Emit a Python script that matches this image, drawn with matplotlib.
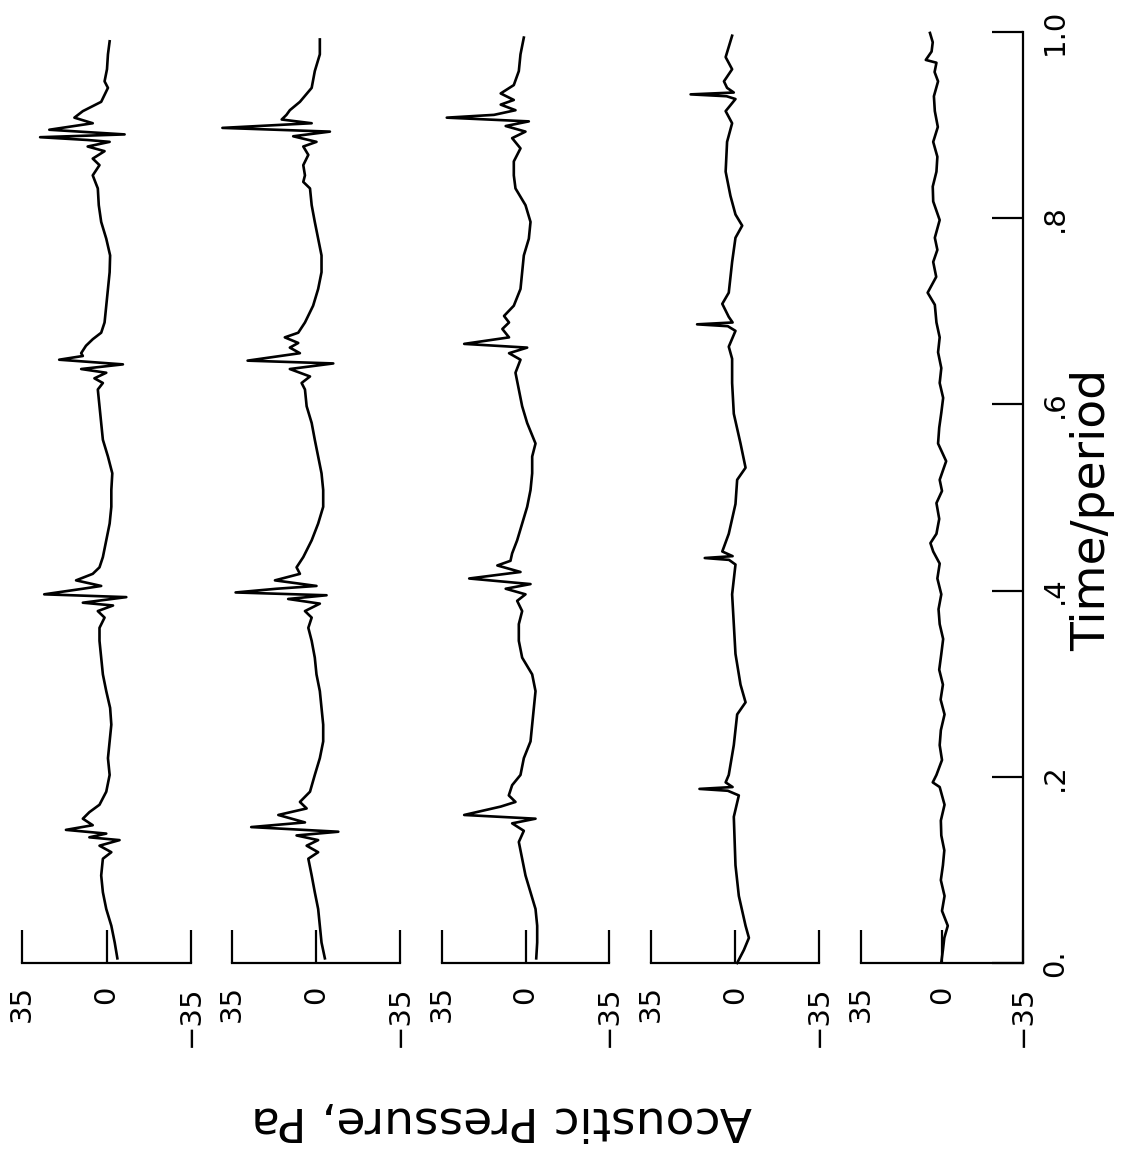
import matplotlib.pyplot as plt

# time/period and acoustic pressure (Pa), top trace first
t1 = [0.005, 0.022, 0.040, 0.058, 0.076, 0.094, 0.112, 0.119, 0.126, 0.132, 0.135, 0.139,
      0.143, 0.148, 0.155, 0.162, 0.170, 0.184, 0.202, 0.220, 0.238, 0.256, 0.274, 0.292,
      0.310, 0.328, 0.346, 0.360, 0.371, 0.378, 0.384, 0.387, 0.393, 0.396, 0.402, 0.405,
      0.411, 0.418, 0.425, 0.436, 0.454, 0.472, 0.490, 0.508, 0.526, 0.544, 0.562, 0.580,
      0.598, 0.616, 0.623, 0.628, 0.634, 0.638, 0.643, 0.648, 0.652, 0.655, 0.663, 0.670,
      0.677, 0.688, 0.706, 0.724, 0.742, 0.760, 0.778, 0.796, 0.814, 0.832, 0.846, 0.857,
      0.864, 0.872, 0.877, 0.882, 0.884, 0.887, 0.890, 0.895, 0.902, 0.908, 0.915, 0.925,
      0.940, 0.947, 0.960, 0.976, 0.990]
p1 = [-4.5, -3.4, -2.0, 0.1, 1.5, 2.2, 1.5, -2.0, 2.9, -5.4, 7.1, 0.1,
      16.8, 5.7, 9.8, 7.1, 2.9, 0.1, -1.3, -0.6, -1.3, -2.0, -1.5, 0.1,
      1.5, 2.2, 2.9, 2.9, 0.8, 3.6, -2.7, 9.8, -8.2, 25.8, 9.8, 2.2,
      12.6, 5.7, 2.9, 1.5, 0.1, -1.3, -2.0, -2.0, -2.4, -0.6, 1.5, 2.2,
      2.9, 3.6, 1.5, 5.0, 0.1, 10.5, -6.8, 19.6, 9.8, 10.5, 8.5, 5.7,
      2.2, 0.8, 0.1, -0.6, -1.3, -1.5, 0.1, 2.2, 3.2, 3.6, 5.7, 2.9,
      5.7, 0.8, 7.8, -1.3, 7.8, 27.5, -7.5, 23.7, 5.7, 13.3, 9.8, 2.2,
      -0.6, 0.8, -0.2, -0.6, -1.3]

t2 = [0.005, 0.022, 0.040, 0.058, 0.076, 0.094, 0.112, 0.119, 0.126, 0.132, 0.137, 0.141,
      0.146, 0.151, 0.159, 0.166, 0.173, 0.184, 0.202, 0.220, 0.238, 0.256, 0.274, 0.292,
      0.310, 0.328, 0.346, 0.360, 0.371, 0.378, 0.386, 0.391, 0.395, 0.398, 0.402, 0.405,
      0.411, 0.418, 0.425, 0.436, 0.454, 0.472, 0.490, 0.508, 0.526, 0.544, 0.562, 0.580,
      0.598, 0.616, 0.623, 0.630, 0.638, 0.644, 0.647, 0.655, 0.661, 0.666, 0.672, 0.677,
      0.688, 0.706, 0.724, 0.742, 0.760, 0.778, 0.796, 0.814, 0.832, 0.839, 0.846, 0.857,
      0.868, 0.877, 0.882, 0.888, 0.893, 0.897, 0.902, 0.906, 0.911, 0.916, 0.925, 0.940,
      0.958, 0.976, 0.992]
p2 = [-3.7, -2.3, -1.6, -0.9, 0.5, 1.8, 3.2, -0.9, 3.9, -0.9, 8.1, -9.3,
      27.0, 4.6, 15.7, 3.9, 6.7, 2.5, 0.5, -1.6, -3.0, -3.0, -2.3, -1.6,
      -0.2, 0.5, 1.8, 3.2, 1.8, 4.6, -1.6, 11.6, -4.4, 33.5, 16.4, -0.2,
      17.1, 6.7, 8.1, 5.3, 1.8, -0.9, -3.0, -3.0, -2.3, -0.9, 0.5, 1.8,
      3.9, 4.6, 6.0, 2.5, 10.9, -7.2, 28.5, 6.7, 10.9, 7.4, 13.0, 7.4,
      4.6, 1.2, -0.9, -2.3, -2.3, -0.9, 0.5, 1.8, 2.5, 5.3, 4.6, 5.3,
      3.2, 5.3, -0.2, 9.5, -5.8, 39.0, 1.8, 14.3, 12.3, 10.9, 6.7, 1.8,
      0.5, -1.6, -1.6]

t3 = [0.005, 0.022, 0.040, 0.058, 0.076, 0.094, 0.112, 0.130, 0.142, 0.150, 0.155, 0.159,
      0.168, 0.173, 0.180, 0.191, 0.202, 0.220, 0.238, 0.256, 0.274, 0.292, 0.310, 0.328,
      0.346, 0.364, 0.378, 0.389, 0.396, 0.402, 0.407, 0.413, 0.420, 0.427, 0.432, 0.440,
      0.454, 0.472, 0.490, 0.508, 0.526, 0.544, 0.558, 0.580, 0.598, 0.616, 0.634, 0.648,
      0.655, 0.661, 0.665, 0.672, 0.681, 0.688, 0.695, 0.706, 0.724, 0.742, 0.760, 0.778,
      0.796, 0.814, 0.832, 0.846, 0.861, 0.875, 0.886, 0.893, 0.899, 0.904, 0.908, 0.911,
      0.916, 0.922, 0.927, 0.934, 0.943, 0.958, 0.976, 0.994]
p3 = [-4.5, -4.9, -4.9, -4.2, -2.1, 0.0, 1.4, 2.8, 0.7, 5.6, -4.2, 25.7,
      10.4, 4.2, 7.0, 5.6, 2.1, 0.7, -2.1, -2.8, -3.5, -4.2, -2.8, 1.4,
      2.8, 2.8, 1.4, 3.5, 0.0, 8.3, -2.1, 23.6, 2.1, 11.8, 6.3, 5.6,
      3.5, 1.4, -0.7, -2.1, -2.8, -2.8, -4.2, -0.7, 1.4, 2.8, 4.2, 2.1,
      6.9, -0.7, 25.7, 6.9, 9.7, 6.9, 9.0, 4.9, 2.1, 1.4, 0.7, -1.4,
      -2.1, 0.0, 4.2, 4.9, 4.9, 2.1, 5.6, 0.0, 8.3, -1.4, 33.0, 13.2,
      4.2, 10.4, 4.9, 10.4, 4.9, 2.8, 2.1, 0.7]

t4 = [0.000, 0.014, 0.027, 0.040, 0.072, 0.105, 0.157, 0.180, 0.185, 0.187, 0.189, 0.194,
      0.202, 0.234, 0.267, 0.280, 0.299, 0.332, 0.364, 0.396, 0.428, 0.433, 0.435, 0.437,
      0.442, 0.461, 0.493, 0.519, 0.532, 0.558, 0.590, 0.623, 0.649, 0.662, 0.679, 0.684,
      0.686, 0.688, 0.694, 0.708, 0.720, 0.753, 0.779, 0.792, 0.804, 0.824, 0.850, 0.882,
      0.902, 0.915, 0.928, 0.931, 0.933, 0.935, 0.940, 0.947, 0.960, 0.973, 0.996]
p4 = [-0.9, -3.7, -5.8, -4.4, -1.6, -0.2, 0.5, -1.6, 3.0, 14.8, 1.0, 3.9,
      2.6, 0.5, -0.9, -4.4, -2.3, -0.2, 0.5, 1.2, -0.2, 2.5, 12.6, 1.0,
      5.3, 2.6, -0.2, -0.9, -4.4, -2.3, 0.5, 1.2, 1.2, 2.6, -0.2, 3.0,
      15.8, 1.0, 2.6, 5.3, 2.6, 1.2, -0.2, -3.0, -0.2, 1.9, 3.9, 3.3,
      1.2, 3.9, -0.2, 3.5, 18.5, 0.5, 3.3, 4.6, 1.2, 3.9, 1.2]

t5 = [0.001, 0.014, 0.027, 0.040, 0.056, 0.072, 0.089, 0.105, 0.121, 0.137, 0.153, 0.170,
      0.189, 0.194, 0.202, 0.218, 0.234, 0.250, 0.267, 0.283, 0.299, 0.315, 0.332, 0.348,
      0.364, 0.380, 0.396, 0.413, 0.429, 0.442, 0.451, 0.461, 0.477, 0.494, 0.507, 0.519,
      0.539, 0.558, 0.575, 0.591, 0.607, 0.623, 0.639, 0.656, 0.672, 0.688, 0.707, 0.720,
      0.737, 0.753, 0.766, 0.779, 0.798, 0.818, 0.834, 0.850, 0.866, 0.882, 0.898, 0.915,
      0.931, 0.947, 0.957, 0.967, 0.970, 0.979, 0.989, 0.999]
p5 = [0.3, -0.4, -1.0, -2.5, 0.0, -1.1, 0.5, -0.4, -1.0, 0.3, 0.5, -1.1,
      1.0, 4.0, 2.4, 0.0, 1.0, 0.5, -1.1, 0.6, -0.4, 1.2, 0.3, -0.5,
      1.0, 1.5, 0.3, 2.0, 1.0, 3.8, 5.0, 2.4, 1.2, 2.4, 0.0, 1.0,
      -1.8, 1.7, 1.2, 0.3, -0.5, 1.0, 0.3, 1.7, 1.0, 2.4, 3.1, 6.2,
      2.5, 3.8, 2.0, 3.1, 1.0, 3.8, 4.0, 2.4, 2.0, 3.8, 1.8, 3.1,
      3.5, 1.7, 3.2, 2.4, 7.0, 4.5, 4.0, 5.2]

traces = [(t1, p1), (t2, p2), (t3, p3), (t4, p4), (t5, p5)]

p_ticks = [35, 0, -35]
p_labels = ['35', '0', '\u221235']
time_ticks = [0, 0.2, 0.4, 0.6, 0.8, 1.0]
time_labels = ['0.', '.2', '.4', '.6', '.8', '1.0']

plt.rcParams['font.family'] = 'DejaVu Sans'

W, H = 1130, 1159
fig = plt.figure(figsize=(W / 100, H / 100), dpi=100)

# pixel extent of each panel (35 .. -35) and of the time axis (0 .. 1)
panel_px = [(22, 191), (232, 400), (442, 609), (651, 819), (861, 1023)]
y_bot, y_top = 963, 32

for i, ((left, right), (t, p)) in enumerate(zip(panel_px, traces)):
    ax = fig.add_axes([left / W, 1 - y_bot / H, (right - left) / W, (y_bot - y_top) / H])
    ax.patch.set_visible(False)
    ax.plot(p, t, color='black', lw=1.9, clip_on=False, solid_joinstyle='round')
    ax.set_xlim(35, -35)
    ax.set_ylim(0, 1)
    for side in ['top', 'left', 'right']:
        ax.spines[side].set_visible(False)
    ax.spines['bottom'].set_linewidth(1.6)
    ax.set_xticks(p_ticks, p_labels)
    ax.tick_params(axis='x', direction='in', length=24, width=1.6, pad=16,
                   labelsize=21, labelrotation=90)
    ax.set_yticks([])

    if i == 4:
        ax.spines['right'].set_visible(True)
        ax.spines['right'].set_linewidth(1.6)
        ax.yaxis.set_ticks_position('right')
        ax.set_yticks(time_ticks, time_labels)
        ax.tick_params(axis='y', direction='in', length=22, width=1.6, pad=13,
                       labelsize=21, labelrotation=90)
        for lab in ax.get_yticklabels():
            lab.set_va('center')

fig.text(502 / W, 1 - 1120 / H, 'Acoustic Pressure, Pa', rotation=180,
         ha='center', va='center', fontsize=34)
fig.text(1093 / W, 1 - 510 / H, 'Time/period', rotation=90,
         ha='center', va='center', fontsize=34)

plt.savefig('out.png', dpi=100)
